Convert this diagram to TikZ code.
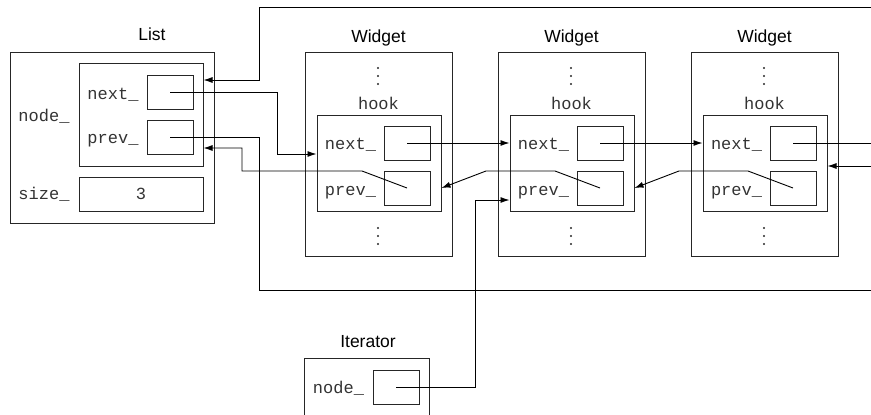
\documentclass[tikz,border=0pt]{standalone}
\usepackage{fontspec}
\setmainfont{Liberation Sans}
\setmonofont{Liberation Mono}
\usetikzlibrary{arrows.meta}
\begin{document}
\begin{tikzpicture}[x=1pt,y=-1pt,
  rbox/.style 2 args={draw=black!85, line width=1pt, inner sep=0pt, minimum width=#1, minimum height=#2},
  ptrbox/.style={rbox={46pt}{34pt}},
  ttl/.style={anchor=base, inner sep=0pt, font=\fontsize{17.5}{21}\selectfont},
  fld/.style={anchor=base, inner sep=0pt, text=black!80, font=\fontsize{17}{20}\selectfont\ttfamily},
  ptr/.style={draw, line width=0.9pt, -{Latex[length=9pt,width=6pt]}},
  lnk/.style={draw, line width=0.9pt},
  dot/.style={circle, fill=black!85, inner sep=0pt, minimum size=2.4pt}]
\useasboundingbox (0,0) rectangle (871,415);
\clip (0,0) rectangle (871,415);

% ---------- List ----------
\node[ttl] (tList) at (152,41) {List};
\node[rbox={204pt}{171pt}] (List) at (112,137.5) {};
\node[rbox={124pt}{103pt}] (Lnode) at (141,114.5) {};
\node[ptrbox] (Lnext) at (170,92) {};
\node[ptrbox] (Lprev) at (170,137) {};
\node[rbox={124pt}{34pt}] (Lsize) at (141,194) {};
\node[fld] (LnodeT) at (44,121) {node\_};
\node[fld] (LnextT) at (113,99) {next\_};
\node[fld] (LprevT) at (113,143) {prev\_};
\node[fld] (LsizeT) at (44,199) {size\_};
\node[fld] (Lthree) at (141,199) {3};

% ---------- Widgets ----------
\foreach \i/\x in {1/305,2/498,3/691}{
  \node[ttl] (tW\i) at (\x+73.5,42) {Widget};
  \node[rbox={147pt}{204pt}] (W\i) at (\x+73.5,154) {};
  \node[dot] (W\i a1) at (\x+73,68) {};
  \node[dot] (W\i a2) at (\x+73,76) {};
  \node[dot] (W\i a3) at (\x+73,84) {};
  \node[fld] (W\i hookT) at (\x+73.5,109) {hook};
  \node[rbox={124pt}{96pt}] (H\i) at (\x+74,163) {};
  \node[ptrbox] (N\i) at (\x+102,143) {};
  \node[ptrbox] (P\i) at (\x+102,188) {};
  \node[fld] (N\i T) at (\x+45.5,149) {next\_};
  \node[fld] (P\i T) at (\x+45.5,195) {prev\_};
  \node[dot] (W\i b1) at (\x+73,228) {};
  \node[dot] (W\i b2) at (\x+73,236) {};
  \node[dot] (W\i b3) at (\x+73,244) {};
}

% ---------- Iterator ----------
\node[ttl] (tIt) at (368,347) {Iterator};
\node[rbox={125pt}{70pt}] (It) at (366.5,393) {};
\node[ptrbox] (Inode) at (396,387) {};
\node[fld] (ItT) at (338.5,393) {node\_};

% free ends at the right border
\coordinate (Rtop) at (871,7);
\coordinate (Rbot) at (871,290);
\coordinate (Rnext) at (871,143);
\coordinate (Rprev) at (871,166);

% ---------- connectors ----------
% wrap-around: last next_ -> List node_
\path[ptr] (Rtop) -- (259,7) -- (259,80) -- ([yshift=34.5pt]Lnode.east);
% List next_ -> first hook
\path[ptr] (Lnext.center) -- (277,92) -- (277,154) -- ([yshift=9pt]H1.west);
% List prev_ -> last hook (wraps along the bottom)
\path[lnk] (Lprev.center) -- (259,137) -- (259,290) -- (Rbot);
% first prev_ -> List node_
\path[ptr] (P1.center) -- (362,171) -- (242,171) -- (242,148) -- ([yshift=-33.5pt]Lnode.east);
% next_ links
\path[ptr] (N1.center) -- ([yshift=20pt]H2.west);
\path[ptr] (N2.center) -- ([yshift=20pt]H3.west);
\path[lnk] (N3.center) -- (Rnext);
% prev_ links
\path[ptr] (P2.center) -- (555,171) -- (486,171) -- ([yshift=-25pt]H1.east);
\path[ptr] (P3.center) -- (748,171) -- (679,171) -- ([yshift=-25pt]H2.east);
\path[ptr] (Rprev) -- ([yshift=-3pt]H3.east);
% Iterator node_ -> second hook
\path[ptr] (Inode.center) -- (475,387) -- (475,200) -- ([yshift=-37pt]H2.west);
\end{tikzpicture}
\end{document}
